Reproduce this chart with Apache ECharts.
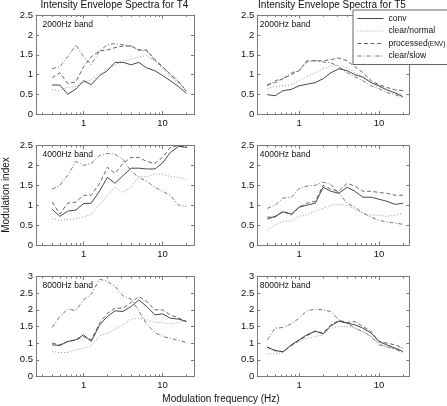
<!DOCTYPE html>
<html><head><meta charset="utf-8">
<script src="https://cdn.jsdelivr.net/npm/echarts@6/dist/echarts.min.js"></script>
<style>html,body{margin:0;padding:0;background:#fff}#c{width:447px;height:406px}</style>
</head><body><div id="c"></div>
<script>
// ---- data ----
const freqs = [0.4,0.5,0.63,0.8,1,1.25,1.6,2,2.5,3.15,4,5,6.3,8,10,12.5,16,20];
const seriesNames = ['conv','clear/normal','processed(ENV)','clear/slow'];
const xLabelTicks = [1, 10];
const xMajorTicks = [1, 10];
const xMinorTicks = [0.3,0.4,0.5,0.6,0.7,0.8,0.9,2,3,4,5,6,7,8,9,20];
const panelTitles = ['Intensity Envelope Spectra for T4','Intensity Envelope Spectra for T5'];
const bandLabels = ['2000Hz band','4000Hz band','8000Hz band'];
const xAxisTitle = 'Modulation frequency (Hz)';
const yAxisTitle = 'Modulation index';

// T4, 2000 Hz band
const t4_2000_conv      = [0.74,0.74,0.51,0.64,0.85,0.75,0.98,1.10,1.31,1.31,1.25,1.31,1.17,1.10,0.98,0.85,0.70,0.53];
const t4_2000_normal    = [0.63,0.60,0.68,0.70,0.80,0.88,1.03,1.14,1.25,1.35,1.38,1.45,1.48,1.35,1.15,0.95,0.78,0.60];
const t4_2000_processed = [0.92,1.05,0.78,0.82,1.20,1.45,1.60,1.62,1.68,1.72,1.72,1.62,1.62,1.38,1.20,1.02,0.82,0.60];
const t4_2000_slow      = [1.15,1.20,1.45,1.75,1.45,1.25,1.60,1.75,1.78,1.75,1.72,1.62,1.60,1.35,1.20,1.00,0.82,0.58];
// T5, 2000 Hz band
const t5_2000_conv      = [0.50,0.47,0.60,0.63,0.72,0.76,0.80,0.90,1.05,1.15,1.10,1.00,0.94,0.80,0.72,0.62,0.54,0.45];
const t5_2000_normal    = [0.65,0.70,0.72,0.75,0.85,0.95,1.05,1.15,1.22,1.24,1.18,1.05,0.92,0.80,0.70,0.62,0.55,0.50];
const t5_2000_processed = [0.75,0.80,0.90,1.00,1.10,1.35,1.35,1.35,1.38,1.42,1.35,1.20,1.05,0.85,0.75,0.68,0.62,0.60];
const t5_2000_slow      = [0.72,0.85,0.90,1.05,1.10,1.32,1.35,1.32,1.30,1.20,1.05,0.95,0.85,0.72,0.65,0.55,0.50,0.42];
// T4, 4000 Hz band
const t4_4000_conv      = [0.90,0.72,0.85,0.88,1.04,1.05,1.36,1.70,1.55,1.74,1.93,1.93,1.91,1.91,2.06,2.32,2.48,2.45];
const t4_4000_normal    = [0.66,0.62,0.64,0.66,0.70,0.78,1.03,1.25,1.45,1.32,1.45,1.72,1.72,1.78,1.78,1.72,1.70,1.65];
const t4_4000_processed = [1.08,0.78,1.05,1.08,1.25,1.25,1.55,1.95,1.80,2.05,2.20,2.20,2.10,2.05,2.20,2.45,2.50,2.45];
const t4_4000_slow      = [1.40,1.50,1.75,2.10,2.00,2.05,2.25,2.30,2.28,2.15,1.85,1.70,1.60,1.45,1.35,1.25,1.00,0.97];
// T5, 4000 Hz band
const t5_4000_conv      = [0.65,0.72,0.83,0.78,0.95,1.00,1.05,1.45,1.35,1.30,1.45,1.35,1.20,1.20,1.15,1.10,1.02,1.05];
const t5_4000_normal    = [0.38,0.50,0.60,0.60,0.72,0.75,0.85,0.92,1.00,1.02,1.00,0.90,0.80,0.75,0.75,0.72,0.75,0.80];
const t5_4000_processed = [0.70,0.70,0.85,0.75,0.95,1.05,1.10,1.50,1.40,1.35,1.55,1.48,1.35,1.35,1.32,1.30,1.25,1.25];
const t5_4000_slow      = [0.92,1.00,1.18,1.20,1.42,1.48,1.50,1.58,1.52,1.30,1.05,0.95,0.80,0.70,0.62,0.58,0.55,0.52];
// T4, 8000 Hz band
const t4_8000_conv      = [0.95,0.93,1.05,1.10,1.25,1.05,1.55,1.80,1.97,1.95,2.10,2.30,2.10,1.85,1.88,1.75,1.72,1.65];
const t4_8000_normal    = [0.75,0.72,0.72,0.80,0.85,0.92,1.22,1.30,1.42,1.55,1.72,1.75,1.70,1.62,1.62,1.58,1.62,1.68];
const t4_8000_processed = [1.00,0.95,1.05,1.10,1.20,1.10,1.60,1.90,2.05,2.05,2.22,2.40,2.25,2.00,2.00,1.85,1.75,1.65];
const t4_8000_slow      = [1.47,1.80,2.02,1.98,2.30,2.47,2.92,2.85,2.70,2.42,2.32,1.97,1.57,1.32,1.20,1.15,1.08,1.02];
// T5, 8000 Hz band
const t5_8000_conv      = [0.88,0.78,0.74,0.95,1.10,1.25,1.36,1.28,1.52,1.66,1.60,1.55,1.45,1.30,1.05,0.95,0.85,0.75];
const t5_8000_normal    = [0.68,0.68,0.72,0.95,1.05,1.15,1.20,1.25,1.45,1.50,1.50,1.45,1.35,1.20,1.00,0.88,0.82,0.88];
const t5_8000_processed = [0.88,0.78,0.74,0.92,1.08,1.22,1.36,1.30,1.55,1.68,1.62,1.65,1.50,1.35,1.05,1.00,0.95,0.85];
const t5_8000_slow      = [1.10,1.45,1.47,1.58,1.75,1.97,2.02,2.00,1.95,1.70,1.60,1.45,1.35,1.20,0.95,0.90,0.82,0.72];

const panelData = [
  [t4_2000_conv, t4_2000_normal, t4_2000_processed, t4_2000_slow],
  [t5_2000_conv, t5_2000_normal, t5_2000_processed, t5_2000_slow],
  [t4_4000_conv, t4_4000_normal, t4_4000_processed, t4_4000_slow],
  [t5_4000_conv, t5_4000_normal, t5_4000_processed, t5_4000_slow],
  [t4_8000_conv, t4_8000_normal, t4_8000_processed, t4_8000_slow],
  [t5_8000_conv, t5_8000_normal, t5_8000_processed, t5_8000_slow]
];

// ---- layout / style ----
const FONT = '"Liberation Sans", Arial, Helvetica, sans-serif';
const layout = [
  {left:36,    top:15,    width:158, height:99.5, xmin:0.25, xmax:25, ymax:2.5},
  {left:257.3, top:15,    width:152, height:99.5, xmin:0.3,  xmax:24, ymax:2.5},
  {left:36,    top:145.5, width:158, height:99.5, xmin:0.25, xmax:25, ymax:2.5},
  {left:257.3, top:145.5, width:152, height:99.5, xmin:0.3,  xmax:24, ymax:2.5},
  {left:36,    top:276.5, width:158, height:100,  xmin:0.25, xmax:25, ymax:3},
  {left:257.3, top:276.5, width:152, height:100,  xmin:0.3,  xmax:24, ymax:3}
];
const lineStyles = [
  {color:'#333333', type:'solid', width:0.9},
  {color:'#9a9a9a', type:[1,2], width:1},
  {color:'#555555', type:[4,2.5], width:0.9},
  {color:'#666666', type:[4,2,1,2], width:0.9}
];
const AX = '#7a7a7a';

const grids = [], xAxes = [], yAxes = [], series = [], graphics = [];
layout.forEach((L, g) => {
  grids.push({left:L.left, top:L.top, width:L.width, height:L.height, containLabel:false});
  const base = {type:'log', logBase:10, gridIndex:g, min:L.xmin, max:L.xmax, splitLine:{show:false}, minorTick:{show:false}, minorSplitLine:{show:false}};
  xAxes.push(Object.assign({}, base, {position:'bottom',
    axisLine:{show:true, lineStyle:{color:AX, width:1}},
    axisTick:{show:true, inside:true, length:3.5, customValues:xMajorTicks, lineStyle:{color:AX}},
    axisLabel:{show:true, customValues:xLabelTicks, margin:4, fontSize:9.5, color:'#111', fontFamily:FONT}}));
  xAxes.push(Object.assign({}, base, {position:'bottom',
    axisLine:{show:false},
    axisTick:{show:true, inside:true, length:2, customValues:xMinorTicks, lineStyle:{color:AX}},
    axisLabel:{show:false}}));
  xAxes.push(Object.assign({}, base, {position:'top',
    axisLine:{show:true, lineStyle:{color:AX, width:1}},
    axisTick:{show:true, inside:true, length:3.5, customValues:xMajorTicks, lineStyle:{color:AX}},
    axisLabel:{show:false}}));
  xAxes.push(Object.assign({}, base, {position:'top',
    axisLine:{show:false},
    axisTick:{show:true, inside:true, length:2, customValues:xMinorTicks, lineStyle:{color:AX}},
    axisLabel:{show:false}}));
  const ybase = {type:'value', gridIndex:g, min:0, max:L.ymax, interval:0.5, splitLine:{show:false}};
  yAxes.push(Object.assign({}, ybase, {position:'left',
    axisLine:{show:true, lineStyle:{color:AX, width:1}},
    axisTick:{show:true, inside:true, length:3, lineStyle:{color:AX}},
    axisLabel:{show:true, margin:3, fontSize:9.5, color:'#111', fontFamily:FONT}}));
  yAxes.push(Object.assign({}, ybase, {position:'right',
    axisLine:{show:true, lineStyle:{color:AX, width:1}},
    axisTick:{show:true, inside:true, length:3, lineStyle:{color:AX}},
    axisLabel:{show:false}}));
  panelData[g].forEach((vals, k) => {
    series.push({
      type:'line', name:seriesNames[k], xAxisIndex:g*4, yAxisIndex:g*2,
      data:freqs.map((f, j) => [f, vals[j]]),
      symbol:'none', showSymbol:false, silent:true, z:10-k,
      lineStyle:lineStyles[k]
    });
  });
  graphics.push({type:'text', left:L.left + (g % 2 === 0 ? 6.5 : 2.5), top:L.top + 5,
    style:{text:bandLabels[Math.floor(g/2)], font:'8.5px ' + FONT, fill:'#111'}});
});

graphics.push({type:'text', x:114.5, y:5.5, style:{text:panelTitles[0], font:'10px ' + FONT, fill:'#111', textAlign:'center', textVerticalAlign:'middle'}});
graphics.push({type:'text', x:332, y:5.5, style:{text:panelTitles[1], font:'10px ' + FONT, fill:'#111', textAlign:'center', textVerticalAlign:'middle'}});
graphics.push({type:'text', x:221, y:399.5, style:{text:xAxisTitle, font:'10px ' + FONT, fill:'#111', textAlign:'center', textVerticalAlign:'middle'}});
graphics.push({type:'text', x:6, y:195, rotation:Math.PI/2, style:{text:yAxisTitle, font:'10px ' + FONT, fill:'#111', textAlign:'center', textVerticalAlign:'middle'}});

const chart = echarts.init(document.getElementById('c'), null, {renderer:'canvas'});
chart.setOption({
  animation:false,
  backgroundColor:'#fff',
  grid:grids, xAxis:xAxes, yAxis:yAxes, series:series,
  legend:{
    data:seriesNames, orient:'vertical', left:353, top:10,
    backgroundColor:'#fff', borderColor:'#666', borderWidth:1,
    padding:[4,12,4,4], itemWidth:26, itemHeight:8, itemGap:3.5,
    selectedMode:false,
    itemStyle:{opacity:0, borderWidth:0},
    lineStyle:{width:0.9},
    textStyle:{fontSize:8.5, color:'#111', fontFamily:FONT,
      rich:{a:{fontSize:8.5, lineHeight:10, color:'#111', fontFamily:FONT, verticalAlign:'middle'},
            b:{fontSize:6.5, lineHeight:10, color:'#111', fontFamily:FONT, verticalAlign:'middle', padding:[1,0,0,0]}}},
    formatter:function(name){ return name === 'processed(ENV)' ? '{a|processed}{b|(ENV)}' : name; }
  },
  graphic:graphics
});
</script>
</body></html>
